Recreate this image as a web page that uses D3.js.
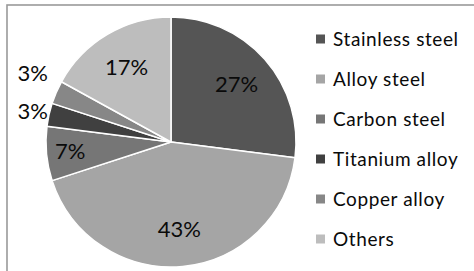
<!DOCTYPE html>
<html>
<head>
<meta charset="utf-8">
<script src="https://cdn.jsdelivr.net/npm/d3@7"></script>
<style>
html,body{margin:0;padding:0;background:#fff;}
svg{display:block;}
</style>
</head>
<body>
<svg id="chart" width="474" height="271"></svg>
<script>
const categories = ["Stainless steel", "Alloy steel", "Carbon steel", "Titanium alloy", "Copper alloy", "Others"];
const values = [27, 43, 7, 3, 3, 17];
const colors = ["#555555", "#a5a5a5", "#767676", "#404040", "#878787", "#bdbdbd"];

const W = 474, H = 271;
const svg = d3.select("#chart");
const FONT = "Lato, 'Open Sans', sans-serif";

// frame (cropped Excel chart area)
svg.append("rect")
  .attr("x", 7).attr("y", 5).attr("width", W + 10).attr("height", H + 10)
  .attr("fill", "#fff").attr("stroke", "#9a9a9a").attr("stroke-width", 1.6);

const cx = 171, cy = 142, R = 125;
const data = categories.map((c, i) => ({ name: c, value: values[i], color: colors[i] }));
const pie = d3.pie().value(d => d.value).sort(null);
const arcs = pie(data);
const arc = d3.arc().innerRadius(0).outerRadius(R);

const g = svg.append("g").attr("transform", `translate(${cx},${cy})`);
g.selectAll("path.slice").data(arcs).join("path")
  .attr("class", "slice")
  .attr("d", arc)
  .attr("fill", d => d.data.color)
  .attr("stroke", "#fff").attr("stroke-width", 1.5).attr("stroke-linejoin", "round");

const total = d3.sum(values);
const fmt = v => Math.round(v / total * 100) + "%";

// labels: inside for large slices, outside (best-fit) for small ones
const inside = arcs.filter(d => d.data.value / total >= 0.05);
const outside = arcs.filter(d => d.data.value / total < 0.05);

const insideRadius = d => (d.data.value / total < 0.1 ? 0.81 : 0.7) * R;
g.selectAll("text.in").data(inside).join("text")
  .attr("class", "in")
  .attr("transform", d => {
    const c = d3.arc().innerRadius(insideRadius(d)).outerRadius(insideRadius(d)).centroid(d);
    return `translate(${c[0]},${c[1]})`;
  })
  .attr("text-anchor", "middle").attr("dy", "0.36em")
  .attr("font-family", FONT).attr("font-size", 22).attr("fill", "#0a0a0a")
  .text(d => fmt(d.data.value));

const outArc = d3.arc().innerRadius(R * 1.15).outerRadius(R * 1.15);
const outPos = outside.map(d => ({ d, y: outArc.centroid(d)[1] }));
outPos.sort((a, b) => b.y - a.y);
const minGap = 38;
for (let i = 1; i < outPos.length; i++) {
  if (outPos[i - 1].y - outPos[i].y < minGap) outPos[i].y = outPos[i - 1].y - minGap;
}
g.selectAll("text.out").data(outPos).join("text")
  .attr("class", "out")
  .attr("x", -R + 2)
  .attr("y", p => p.y)
  .attr("text-anchor", "end").attr("dy", "0.36em")
  .attr("font-family", FONT).attr("font-size", 22).attr("fill", "#0a0a0a")
  .text(p => fmt(p.d.data.value));

// legend
const ly = d3.scalePoint().domain(categories).range([39, 239]);
const lg = svg.append("g");
const items = lg.selectAll("g").data(data).join("g")
  .attr("transform", d => `translate(316,${ly(d.name)})`);
items.append("rect").attr("x", 0).attr("y", -4.5).attr("width", 9).attr("height", 9)
  .attr("fill", d => d.color);
items.append("text").attr("x", 17).attr("dy", "0.36em")
  .attr("font-family", FONT).attr("font-size", 19).attr("letter-spacing", 0.6).attr("fill", "#0a0a0a")
  .text(d => d.name);
</script>
</body>
</html>
